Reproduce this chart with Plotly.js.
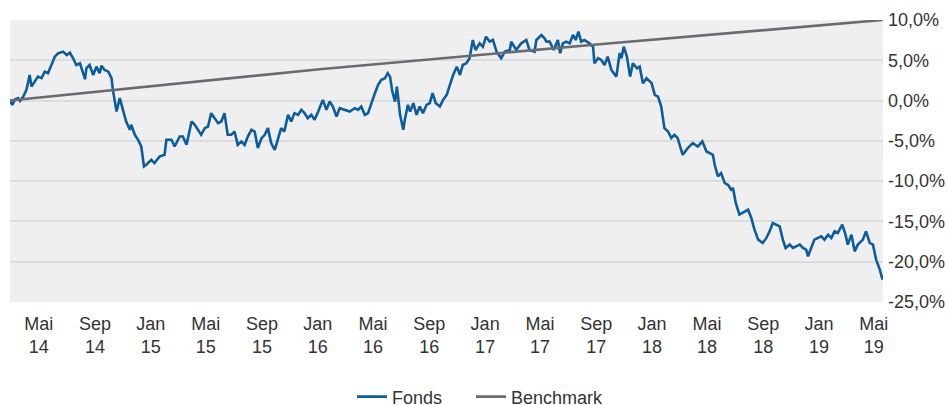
<!DOCTYPE html>
<html>
<head>
<meta charset="utf-8">
<script src="https://cdn.plot.ly/plotly-3.0.1.min.js"></script>
<style>
html,body{margin:0;padding:0;background:#fff;}
#chart{width:948px;height:405px;}
</style>
</head>
<body>
<div id="chart"></div>
<script>
const fundDates = [
"2014-02-27","2014-03-04","2014-03-10","2014-03-17","2014-03-21","2014-03-28","2014-04-04","2014-04-11","2014-04-15","2014-04-22",
"2014-04-29","2014-05-07","2014-05-14","2014-05-21","2014-05-29","2014-06-05","2014-06-12","2014-06-23","2014-07-01","2014-07-08",
"2014-07-15","2014-07-22","2014-07-30","2014-08-10","2014-08-13","2014-08-20","2014-08-28","2014-09-04","2014-09-11","2014-09-15",
"2014-09-22","2014-09-30","2014-10-07","2014-10-10","2014-10-18","2014-10-25","2014-11-01","2014-11-08","2014-11-16","2014-11-19",
"2014-11-27","2014-12-04","2014-12-11","2014-12-17","2014-12-22","2015-01-02","2015-01-09","2015-01-20","2015-01-31","2015-02-04",
"2015-02-15","2015-02-22","2015-03-05","2015-03-12","2015-03-20","2015-03-31","2015-04-07","2015-04-14","2015-04-21","2015-04-29",
"2015-05-06","2015-05-13","2015-05-20","2015-05-28","2015-06-04","2015-06-11","2015-06-18","2015-06-26","2015-07-03","2015-07-10",
"2015-07-18","2015-07-25","2015-08-01","2015-08-09","2015-08-16","2015-08-23","2015-08-31","2015-09-07","2015-09-14","2015-09-21",
"2015-09-29","2015-10-06","2015-10-13","2015-10-20","2015-10-28","2015-11-04","2015-11-11","2015-11-19","2015-11-26","2015-12-03",
"2015-12-10","2015-12-18","2015-12-25","2016-01-02","2016-01-12","2016-01-20","2016-01-27","2016-02-03","2016-02-11","2016-02-18",
"2016-02-29","2016-03-11","2016-03-22","2016-03-29","2016-04-05","2016-04-13","2016-04-20","2016-04-28","2016-05-05","2016-05-12",
"2016-05-19","2016-05-27","2016-06-02","2016-06-07","2016-06-12","2016-06-18","2016-06-22","2016-06-29","2016-07-06","2016-07-10",
"2016-07-16","2016-07-21","2016-07-28","2016-08-04","2016-08-11","2016-08-18","2016-08-26","2016-09-02","2016-09-08","2016-09-15",
"2016-09-24","2016-10-01","2016-10-09","2016-10-16","2016-10-23","2016-10-31","2016-11-07","2016-11-13","2016-11-21","2016-11-28",
"2016-12-05","2016-12-11","2016-12-20","2016-12-27","2017-01-03","2017-01-11","2017-01-18","2017-01-26","2017-02-05","2017-02-13",
"2017-02-24","2017-02-27","2017-03-10","2017-03-21","2017-04-01","2017-04-08","2017-04-19","2017-04-23","2017-05-04","2017-05-11",
"2017-05-15","2017-05-22","2017-05-31","2017-06-09","2017-06-14","2017-06-20","2017-06-27","2017-07-05","2017-07-12","2017-07-18",
"2017-07-24","2017-07-30","2017-08-06","2017-08-17","2017-08-25","2017-08-28","2017-09-05","2017-09-12","2017-09-19","2017-09-26",
"2017-10-04","2017-10-15","2017-10-22","2017-10-26","2017-10-31","2017-11-07","2017-11-14","2017-11-20","2017-11-29","2017-12-05",
"2017-12-12","2017-12-20","2017-12-31","2018-01-07","2018-01-14","2018-01-21","2018-01-28","2018-02-05","2018-02-12","2018-02-19",
"2018-02-26","2018-03-09","2018-03-20","2018-03-31","2018-04-11","2018-04-21","2018-04-30","2018-05-07","2018-05-14","2018-05-18",
"2018-05-25","2018-06-01","2018-06-09","2018-06-16","2018-06-23","2018-06-27","2018-07-03","2018-07-11","2018-07-22","2018-07-30",
"2018-08-06","2018-08-13","2018-08-21","2018-08-31","2018-09-08","2018-09-15","2018-09-22","2018-09-30","2018-10-07","2018-10-14",
"2018-10-20","2018-10-29","2018-11-05","2018-11-12","2018-11-20","2018-11-27","2018-12-04","2018-12-08","2018-12-15","2018-12-22",
"2018-12-30","2019-01-06","2019-01-13","2019-01-21","2019-01-28","2019-02-04","2019-02-11","2019-02-21","2019-02-28","2019-03-05",
"2019-03-13","2019-03-20","2019-03-27","2019-04-07","2019-04-14","2019-04-22","2019-04-29","2019-05-06","2019-05-14","2019-05-20"
];
const fundValues = [
0.00,-0.53,0.17,0.30,-0.04,0.50,1.33,3.18,1.73,2.35,
2.97,2.78,3.59,3.40,4.42,5.45,5.87,6.07,5.66,5.95,
5.25,4.42,4.63,2.65,4.01,4.42,3.18,4.21,3.40,4.30,
3.80,3.59,2.78,1.33,-1.36,0.30,-1.15,-2.60,-3.63,-3.01,
-4.25,-4.87,-5.70,-8.18,-7.97,-7.35,-7.76,-6.94,-6.73,-4.87,
-4.87,-5.70,-4.46,-4.46,-5.49,-2.60,-3.01,-3.63,-4.25,-3.42,
-3.22,-1.56,-2.18,-2.80,-2.60,-1.56,-4.25,-4.25,-3.84,-5.49,
-5.08,-5.49,-4.46,-3.63,-3.84,-5.90,-4.66,-4.25,-3.42,-5.28,
-6.11,-4.87,-3.42,-3.84,-1.77,-2.60,-1.56,-1.77,-1.15,-1.56,
-2.18,-1.77,-2.39,-1.36,0.09,-1.15,-0.12,-0.74,-1.98,-0.94,
-1.15,-1.36,-0.94,-1.15,-0.74,-1.77,-1.56,-0.12,0.92,1.95,
2.57,2.78,3.40,2.97,1.12,-0.12,1.73,-1.77,-3.63,-2.18,
-0.53,-1.36,-0.32,-1.77,-0.74,-1.56,-0.53,-0.32,0.92,-0.32,
-0.74,0.09,0.71,1.95,3.18,4.21,3.18,4.42,4.63,5.25,
7.52,6.28,7.11,6.69,7.93,7.31,7.52,6.07,5.25,6.07,
6.28,7.31,6.28,7.11,7.52,6.28,6.07,7.52,8.14,7.73,
7.31,7.31,6.28,7.52,5.87,7.11,7.31,7.11,8.14,7.52,
8.55,7.31,7.52,7.11,6.69,4.63,5.25,5.04,4.42,5.45,
3.80,2.97,5.87,5.25,6.69,5.45,2.97,4.63,4.01,4.21,
2.16,2.78,2.16,0.71,0.50,-0.74,-3.42,-3.84,-4.66,-4.25,
-4.66,-6.73,-5.90,-5.28,-5.70,-5.08,-6.32,-6.52,-6.73,-7.97,
-9.42,-9.00,-10.24,-10.45,-11.07,-10.86,-12.71,-14.16,-13.75,-13.54,
-14.57,-16.02,-17.26,-17.67,-17.05,-16.23,-15.19,-15.40,-15.61,-17.26,
-18.29,-17.88,-18.29,-18.09,-17.88,-18.29,-18.50,-19.33,-18.29,-17.26,
-17.05,-16.85,-17.26,-16.64,-17.05,-16.23,-16.43,-15.40,-16.64,-17.88,
-16.64,-18.71,-17.88,-17.26,-16.23,-17.67,-17.88,-19.74,-20.98,-22.22
];

const benchDates = ["2014-02-27","2016-01-05","2017-09-08","2019-05-20"];
const benchValues = [0.0, 3.89, 6.99, 10.0];

const xTickVals = ["2014-05-01","2014-09-01","2015-01-01","2015-05-01","2015-09-01","2016-01-01","2016-05-01","2016-09-01",
  "2017-01-01","2017-05-01","2017-09-01","2018-01-01","2018-05-01","2018-09-01","2019-01-01","2019-05-01"];
const xTickText = ["Mai<br>14","Sep<br>14","Jan<br>15","Mai<br>15","Sep<br>15","Jan<br>16","Mai<br>16","Sep<br>16",
  "Jan<br>17","Mai<br>17","Sep<br>17","Jan<br>18","Mai<br>18","Sep<br>18","Jan<br>19","Mai<br>19"];
const yTickVals = [10,5,0,-5,-10,-15,-20,-25];
const yTickText = ["10,0%","5,0%","0,0%","-5,0%","-10,0%","-15,0%","-20,0%","-25,0%"];

const seriesNames = ["Fonds","Benchmark"];

const traces = [
  {x: fundDates, y: fundValues, name: seriesNames[0], type: "scatter", mode: "lines", legend: "legend",
   line: {color: "#0b5d9c", width: 2.6}, hoverinfo: "skip"},
  {x: benchDates, y: benchValues, name: seriesNames[1], type: "scatter", mode: "lines", legend: "legend2",
   line: {color: "#6a6b70", width: 2.6}, hoverinfo: "skip"}
];

const legendFont = {size: 18, color: "#333333"};
const layout = {
  width: 948, height: 405,
  margin: {l: 10, r: 65, t: 20, b: 102.5, pad: 0, autoexpand: false},
  paper_bgcolor: "#ffffff",
  plot_bgcolor: "#efefef",
  font: {family: "Liberation Sans, Arial, sans-serif", size: 18, color: "#333333"},
  showlegend: true,
  legend: {orientation: "h", x: 352/948, xref: "container", xanchor: "left", y: 0.02, yref: "container", yanchor: "middle",
    font: legendFont, bgcolor: "rgba(0,0,0,0)"},
  legend2: {orientation: "h", x: 471/948, xref: "container", xanchor: "left", y: 0.02, yref: "container", yanchor: "middle",
    font: legendFont, bgcolor: "rgba(0,0,0,0)"},
  xaxis: {type: "date", range: ["2014-02-27","2019-05-21"], showgrid: false, zeroline: false, showline: false,
    tickvals: xTickVals, ticktext: xTickText, ticks: "", tickangle: 0, automargin: false, ticklabelstandoff: 9,
    tickfont: {size: 18, color: "#333333"}, fixedrange: true},
  yaxis: {range: [-25, 10], side: "right", tickvals: yTickVals, ticktext: yTickText, showgrid: true,
    gridcolor: "#dcdcdc", gridwidth: 2, zeroline: false, showline: false, ticks: "", automargin: false,
    ticklabelstandoff: 4, tickfont: {size: 18, color: "#333333"}, fixedrange: true}
};

Plotly.newPlot("chart", traces, layout, {displayModeBar: false, staticPlot: true});
</script>
</body>
</html>
